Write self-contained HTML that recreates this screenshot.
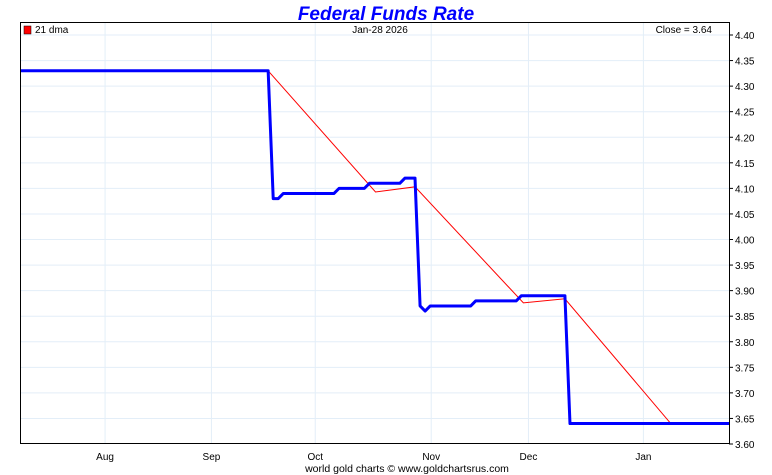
<!DOCTYPE html>
<html><head><meta charset="utf-8"><style>
body{margin:0;background:#fff;}
svg{display:block;font-family:"Liberation Sans",sans-serif;}
</style></head><body>
<svg id="chart" width="772" height="475">
<text x="386" y="20" text-anchor="middle" font-size="19" font-weight="bold" font-style="italic" fill="#0000ff">Federal Funds Rate</text>
<g id="grid"></g>
<g id="series"></g>
<rect x="20.5" y="22.5" width="709" height="421" fill="none" stroke="#000" stroke-width="1"/>
<g id="yaxis"></g>
<g id="xaxis"></g>
<rect x="24" y="26" width="7" height="8" fill="#ff0000" stroke="#000" stroke-width="0.5"/>
<text x="35" y="33" font-size="10">21 dma</text>
<text x="380" y="33" font-size="10" text-anchor="middle">Jan-28  2026</text>
<text x="712" y="33" font-size="10" text-anchor="end">Close = 3.64</text>
<text x="407" y="472" font-size="10.5" text-anchor="middle">world gold charts © www.goldchartsrus.com</text>
</svg>
<script>
const yTicks=[3.60,3.65,3.70,3.75,3.80,3.85,3.90,3.95,4.00,4.05,4.10,4.15,4.20,4.25,4.30,4.35,4.40];
const monthLabels=["Aug","Sep","Oct","Nov","Dec","Jan"];
const monthIdx=[16.8,37.8,58.3,81.2,100.4,123.1];
// blue: [trading-day index, rate]
const rateIdx=[0,49,50,51,52,62,63,68,69,75,76,78,79,80,81,89,90,98,99,107.6,108.6,140];
const rateVal=[4.33,4.33,4.08,4.08,4.09,4.09,4.10,4.10,4.11,4.11,4.12,4.12,3.87,3.86,3.87,3.87,3.88,3.88,3.89,3.89,3.64,3.64];
// red 21 dma knots
const dmaIdx=[49,70.2,78,99.4,107.6,128.5,140];
const dmaVal=[4.33,4.093,4.103,3.876,3.884,3.64,3.64];

const NS="http://www.w3.org/2000/svg";
const X0=20,X1=729,NMAX=140;
const xs=i=>X0+(i/NMAX)*(X1-X0);
const ys=v=>444-(v-3.60)*511.25;
function mk(tag,attrs,parent){const e=document.createElementNS(NS,tag);for(const k in attrs)e.setAttribute(k,attrs[k]);document.getElementById(parent).appendChild(e);return e;}
yTicks.forEach((t,i)=>{
  const y=ys(t);
  if(i>0){const g=mk('line',{x1:X0,x2:X1,y1:y,y2:y,stroke:'#e3eef8','stroke-width':1},'grid');
  
  }
  const tk=mk('line',{x1:729,x2:733,y1:y,y2:y,stroke:'#000'},'yaxis');
  
  
  const tx=mk('text',{x:735,y:y+4,'font-size':10},'yaxis');tx.textContent=t.toFixed(2);
  
  
});
monthLabels.forEach((m,i)=>{
  const x=xs(monthIdx[i]);
  const g=mk('line',{x1:x,x2:x,y1:23,y2:443,stroke:'#e3eef8','stroke-width':1},'grid');
  
  
  const t=mk('text',{x:x,y:460,'font-size':10,'text-anchor':'middle'},'xaxis');t.textContent=m;
  
  
});
const red=mk('polyline',{points:dmaIdx.map((d,i)=>xs(d)+','+ys(dmaVal[i])).join(' '),fill:'none',stroke:'#ff0000','stroke-width':1},'series');


const blue=mk('polyline',{points:rateIdx.map((d,i)=>xs(d)+','+ys(rateVal[i])).join(' '),fill:'none',stroke:'#0000ff','stroke-width':3,'stroke-linejoin':'round'},'series');


</script>
</body></html>
